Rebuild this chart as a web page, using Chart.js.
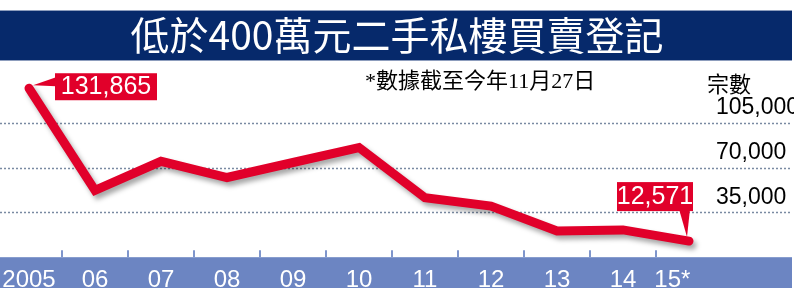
<!DOCTYPE html>
<html>
<head>
<meta charset="utf-8">
<style>
  html, body { margin: 0; padding: 0; background: #fff; }
</style>
</head>
<body>
<canvas id="chart" width="794" height="290"></canvas>
<script src="https://cdn.jsdelivr.net/npm/chart.js@4.4.0/dist/chart.umd.min.js"></script>
<script>
// 年份（15年數據截至11月27日）
const years = ["2005", "06", "07", "08", "09", "10", "11", "12", "13", "14", "15"];
// 低於400萬元二手私樓買賣登記宗數
const deals = [131865, 52100, 74800, 62200, 73900, 85600, 46400, 39900, 20500, 21300, 12571];
// 右邊刻度
const yTicks = [35000, 70000, 105000];
const yMax = 152500;

const titleText = "低於400萬元二手私樓買賣登記";
const noteText = "*數據截至今年11月27日";
const unitText = "宗數";

const navy = "#06296b";
const barBlue = "#6c85c2";
const red = "#e1002a";

// 背景：標題底色、x軸藍色底條、虛線格線、刻度
const framePlugin = {
  id: "frame",
  beforeDraw(chart) {
    const ctx = chart.ctx;
    const x = chart.scales.x;
    ctx.save();
    ctx.fillStyle = navy;
    ctx.fillRect(0, 10, 792, 51);
    ctx.fillStyle = "#8d9dbd";
    ctx.fillRect(0, 10, 792, 1);
    ctx.fillRect(0, 60, 792, 1);
    ctx.fillStyle = barBlue;
    ctx.fillRect(0, x.top, 792, 288 - x.top);
    ctx.restore();
  },
  beforeDatasetsDraw(chart) {
    const ctx = chart.ctx;
    const x = chart.scales.x;
    const y = chart.scales.y;
    ctx.save();
    ctx.strokeStyle = "#7a8aa2";
    ctx.lineWidth = 1.5;
    ctx.setLineDash([2, 2]);
    y.ticks.forEach(t => {
      const py = Math.round(y.getPixelForValue(t.value)) + 0.5;
      ctx.beginPath();
      ctx.moveTo(0, py);
      ctx.lineTo(792, py);
      ctx.stroke();
    });
    ctx.setLineDash([]);
    ctx.strokeStyle = "#7f96cc";
    ctx.lineWidth = 2;
    for (let i = 0; i < years.length - 1; i++) {
      const px = Math.round((x.getPixelForValue(i) + x.getPixelForValue(i + 1)) / 2);
      ctx.beginPath();
      ctx.moveTo(px, x.top - 7);
      ctx.lineTo(px, x.top);
      ctx.stroke();
    }
    // 註腳和單位
    ctx.fillStyle = "#000";
    ctx.textBaseline = "middle";
    ctx.textAlign = "left";
    ctx.font = "22px 'Liberation Serif', 'Noto Sans CJK TC'";
    ctx.fillText(noteText, 365, 82);
    ctx.font = "22px 'Noto Sans CJK TC'";
    ctx.fillText(unitText, 707, 84);
    ctx.restore();
  },
  // 線的陰影
  beforeDatasetDraw(chart) {
    const ctx = chart.ctx;
    ctx.save();
    ctx.shadowColor = "rgba(0,0,0,0.35)";
    ctx.shadowOffsetX = 3;
    ctx.shadowOffsetY = 4;
    ctx.shadowBlur = 5;
  },
  afterDatasetDraw(chart) {
    chart.ctx.restore();
  },
  // 首尾數值標籤
  afterDatasetsDraw(chart) {
    const ctx = chart.ctx;
    const pts = chart.getDatasetMeta(0).data;
    const first = pts[0];
    const last = pts[pts.length - 1];
    ctx.save();
    ctx.fillStyle = red;
    ctx.beginPath();
    ctx.moveTo(first.x + 4, first.y - 3);
    ctx.lineTo(first.x + 27, first.y - 11);
    ctx.lineTo(first.x + 27, first.y - 2);
    ctx.closePath();
    ctx.fill();
    ctx.fillRect(first.x + 26, first.y - 15, 102, 27);

    ctx.beginPath();
    ctx.moveTo(last.x - 10, last.y - 32);
    ctx.lineTo(last.x + 1, last.y - 32);
    ctx.lineTo(last.x - 2, last.y - 4);
    ctx.closePath();
    ctx.fill();
    ctx.fillRect(last.x - 72, last.y - 59, 76, 29);

    ctx.fillStyle = "#fff";
    ctx.textAlign = "center";
    ctx.textBaseline = "middle";
    ctx.font = "25px 'Liberation Sans', Arial, sans-serif";
    ctx.fillText(deals[0].toLocaleString("en-US"), first.x + 77, first.y - 1);
    ctx.fillText(deals[deals.length - 1].toLocaleString("en-US"), last.x - 34, last.y - 44);
    ctx.restore();
  }
};

new Chart(document.getElementById("chart"), {
  type: "line",
  data: {
    labels: years,
    datasets: [{
      data: deals,
      borderColor: red,
      borderWidth: 9,
      borderCapStyle: "round",
      borderJoinStyle: "miter",
      pointRadius: 0,
      tension: 0,
      fill: false,
      clip: false
    }]
  },
  options: {
    responsive: false,
    animation: false,
    layout: { padding: 0 },
    plugins: {
      legend: { display: false },
      tooltip: { enabled: false },
      title: {
        display: true,
        text: titleText,
        color: "#fff",
        font: { family: "'Noto Sans CJK TC'", size: 39, weight: "normal", lineHeight: 1.2 },
        padding: { top: 12, bottom: 3 }
      }
    },
    scales: {
      x: {
        offset: false,
        afterFit: s => { s.height = 30.6; },
        grid: { display: false },
        border: { display: false },
        ticks: {
          color: "#fff",
          font: { family: "'Liberation Sans', Arial, sans-serif", size: 24 },
          padding: 1,
          maxRotation: 0,
          autoSkip: false,
          callback: (v, i) => i === years.length - 1 ? years[i] + "*     " : years[i]
        }
      },
      y: {
        position: "right",
        min: 0,
        max: yMax,
        afterBuildTicks: s => { s.ticks = yTicks.map(v => ({ value: v })); },
        afterFit: s => { s.width = 105; },
        grid: { display: false },
        border: { display: false },
        ticks: {
          color: "#000",
          font: { family: "'Liberation Sans', Arial, sans-serif", size: 23 },
          padding: 19,
          labelOffset: -15,
          callback: v => v.toLocaleString("en-US")
        }
      },
      // 左邊留白用的空軸
      pad: {
        type: "linear",
        position: "left",
        afterFit: s => { s.width = 29; },
        grid: { display: false },
        border: { display: false },
        ticks: { display: false }
      }
    }
  },
  plugins: [framePlugin]
});
</script>
</body>
</html>
